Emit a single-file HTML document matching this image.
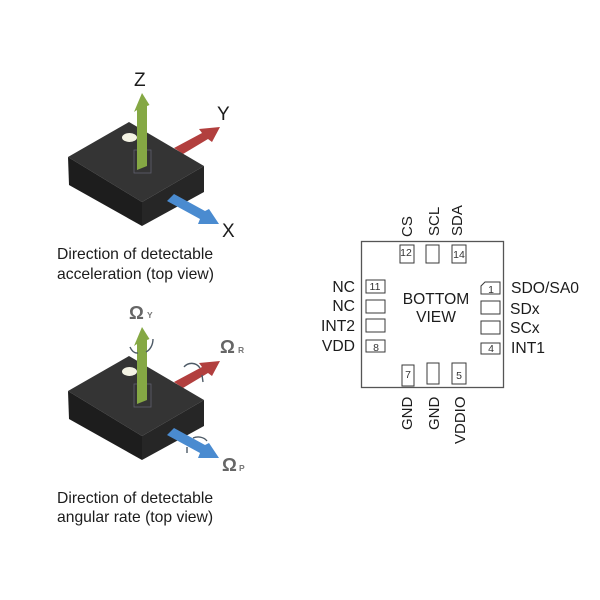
<!DOCTYPE html>
<html><head><meta charset="utf-8"><style>
html,body{margin:0;padding:0;background:#fff}
svg{display:block}
text{font-family:"Liberation Sans",sans-serif;fill:#1c1c1c}
.n{font-size:10.5px;fill:#333;text-anchor:middle}
.l{font-size:15.7px}
.p{fill:#fff;stroke:#3a3a3a;stroke-width:1}
.o{font-family:"Liberation Sans",sans-serif;font-weight:bold;font-size:18.5px;fill:#666}
.s{font-weight:bold;font-size:8.5px;fill:#777}
.c{fill:none;stroke:#4d5a66;stroke-width:1.4}
</style></head><body>
<svg width="600" height="600" viewBox="0 0 600 600" xmlns="http://www.w3.org/2000/svg">
<defs>
<g id="chip">
<polygon points="174,148 202,133 199,129 220,127 212,142 208,139 183,154" fill="#b23f3e"/>
<polygon points="68,157 129,122 204,166 142,202" fill="#343434"/>
<polygon points="68,157 142,202 142,226 69,185" fill="#1d1d1d"/>
<polygon points="142,202 204,166 204,192 142,226" fill="#262626"/>
<polygon points="167,201 174,194 205,211 209,209 219,224 198,224 200,219" fill="#4a8bd0"/>
<ellipse cx="129.500" cy="137.500" rx="7.500" ry="4.500" fill="#f4f3e4"/>
<rect x="134" y="150" width="17" height="23" fill="none" stroke="#5f5f6e" stroke-width="0.8"/>
<polygon points="142,93 149.500,105 147,106 147,166 137,170 137,110 134,112" fill="#85a844"/>
</g>
</defs>

<use href="#chip"/>
<use href="#chip" y="234"/>

<text x="134" y="86" style="font-size:19px">Z</text>
<text x="217" y="120" style="font-size:19px">Y</text>
<text x="222" y="237" style="font-size:19px">X</text>
<text x="57" y="259" class="l">Direction of detectable</text>
<text x="57" y="279" class="l">acceleration (top view)</text>

<!-- rotation arcs -->
<path d="M130,347 C133,354 137,353 138,353 M146,352 C150,350 153,345 153,339" class="c"/>
<path d="M184,367 C188,362 196,362 200,368 M202,375 L203,382" class="c"/>
<path d="M193,438 C198,436 204,437 207,441 M187,447 L187,453" class="c"/>

<text x="129" y="319" class="o">Ω</text><text x="147" y="318" class="s">Y</text>
<text x="220" y="353" class="o">Ω</text><text x="238" y="353" class="s">R</text>
<text x="222" y="471" class="o">Ω</text><text x="239" y="471" class="s">P</text>
<text x="57" y="503" class="l">Direction of detectable</text>
<text x="57" y="522" class="l">angular rate (top view)</text>

<!-- Bottom view -->
<rect x="361.500" y="241.500" width="142" height="146" fill="#fff" stroke="#555" stroke-width="1.300"/>
<rect class="p" x="400" y="245" width="14" height="18"/>
<rect class="p" x="426" y="245" width="13" height="18"/>
<rect class="p" x="452" y="245" width="14" height="18"/>
<rect class="p" x="402" y="365" width="12" height="21"/>
<rect class="p" x="427" y="363" width="12" height="21"/>
<rect class="p" x="452" y="363" width="14" height="21"/>
<rect class="p" x="366" y="280" width="19" height="13"/>
<rect class="p" x="366" y="300" width="19" height="13"/>
<rect class="p" x="366" y="319" width="19" height="13"/>
<rect class="p" x="366" y="340" width="19" height="12"/>
<polygon class="p" points="485,282 500,282 500,294 481,294 481,286"/>
<rect class="p" x="481" y="301" width="19" height="13"/>
<rect class="p" x="481" y="321" width="19" height="13"/>
<rect class="p" x="481" y="343" width="19" height="11"/>

<text class="n" x="406" y="256">12</text>
<text class="n" x="459" y="258">14</text>
<text class="n" x="408" y="378">7</text>
<text class="n" x="459" y="379">5</text>
<text class="n" x="375" y="290">11</text>
<text class="n" x="376" y="351">8</text>
<text class="n" x="491" y="293">1</text>
<text class="n" x="491" y="352">4</text>

<text x="436" y="304" style="font-size:15.6px" text-anchor="middle">BOTTOM</text>
<text x="436" y="322" style="font-size:15.6px" text-anchor="middle">VIEW</text>

<g style="font-size:15.700px" text-anchor="end">
<text x="355" y="292">NC</text>
<text x="355" y="311">NC</text>
<text x="355" y="331">INT2</text>
<text x="355" y="351">VDD</text>
</g>
<g style="font-size:15.700px">
<text x="511" y="293">SDO/SA0</text>
<text x="510" y="314">SDx</text>
<text x="510" y="333">SCx</text>
<text x="511" y="353">INT1</text>
</g>
<g style="font-size:15px">
<text transform="translate(412,237) rotate(-90)">CS</text>
<text transform="translate(439,236) rotate(-90)">SCL</text>
<text transform="translate(462,236) rotate(-90)">SDA</text>
<text transform="translate(412,430) rotate(-90)">GND</text>
<text transform="translate(439,430) rotate(-90)">GND</text>
<text transform="translate(465,444) rotate(-90)">VDDIO</text>
</g>
</svg>
</body></html>
